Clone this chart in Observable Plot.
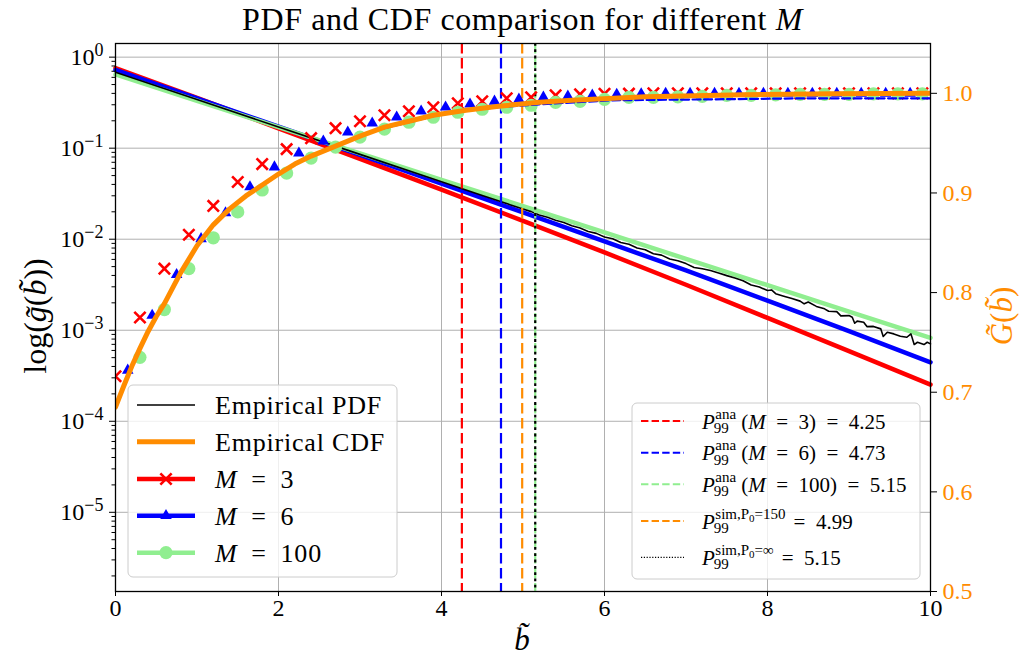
<!DOCTYPE html>
<html>
<head>
<meta charset="utf-8">
<script src="https://cdn.jsdelivr.net/npm/d3@7"></script>
<script src="https://cdn.jsdelivr.net/npm/@observablehq/plot@0.6"></script>
<style>
  body { margin: 0; background: #fff; }
  #wrap { position: relative; width: 1021px; height: 658px; overflow: hidden; font-family: "Liberation Serif", "DejaVu Serif", serif; }
  #wrap text { font-family: "Liberation Serif", "DejaVu Serif", serif !important; font-variant-numeric: normal !important; }
  #title { position: relative; height: 38px; line-height: 38px; margin-left: 115px; width: 815px; text-align: center; font-size: 32px; letter-spacing: 0.6px; color: #000; white-space: nowrap; }
  #plots { position: relative; width: 1021px; height: 620px; }
  .layer { position: absolute; left: 0; top: 0; }
  #overlay { position: absolute; left: 0; top: 0; }
</style>
</head>
<body>
<div id="wrap">
  <div id="title">PDF and CDF comparison for different <i>M</i></div>
  <div id="plots">
    <div id="l1" class="layer"></div>
    <div id="l2" class="layer"></div>
  </div>
  <svg id="overlay" width="1021" height="658"></svg>
</div>
<script>
// ---------------- data ----------------
const xTicks = [0, 2, 4, 6, 8, 10];
const yMajorExp = [-5, -4, -3, -2, -1, 0];
const rightTicks = [0.5, 0.6, 0.7, 0.8, 0.9, 1.0];

// analytical PDFs (log10 of g), read at b = 0..10
const pdfB = [0, 1, 2, 3, 4, 5, 6, 7, 8, 9, 10];
const pdfM3Log10 = [-0.119, -0.448, -0.782, -1.118, -1.455, -1.798, -2.145, -2.500, -2.865, -3.230, -3.597];
const pdfM6Log10 = [-0.141, -0.452, -0.763, -1.074, -1.390, -1.705, -2.025, -2.342, -2.675, -3.010, -3.352];
const pdfM100Log10 = [-0.190, -0.479, -0.769, -1.058, -1.348, -1.637, -1.926, -2.216, -2.505, -2.795, -3.084];

// empirical PDF (log10 of g)
const empPdfB = [0, 1, 2, 3, 4, 4.5, 5.0, 5.1, 5.2, 5.3, 5.4, 5.5, 5.6, 5.7, 5.8, 5.9, 6.0, 6.1, 6.2, 6.3, 6.4, 6.5, 6.6, 6.7, 6.8, 6.9, 7.0, 7.1, 7.2, 7.3, 7.4, 7.5, 7.6, 7.7, 7.8, 7.9, 8.0, 8.05, 8.1, 8.2, 8.3, 8.4, 8.45, 8.5, 8.6, 8.7, 8.75, 8.85, 8.9, 9.0, 9.04, 9.07, 9.1, 9.18, 9.22, 9.3, 9.39, 9.42, 9.47, 9.55, 9.63, 9.71, 9.76, 9.8, 9.84, 9.92, 9.96, 10.0];
const empPdfLog10 = [-0.165, -0.466, -0.767, -1.068, -1.369, -1.520, -1.668, -1.697, -1.733, -1.758, -1.792, -1.816, -1.853, -1.877, -1.915, -1.936, -1.975, -1.995, -2.036, -2.055, -2.097, -2.115, -2.160, -2.175, -2.218, -2.236, -2.268, -2.310, -2.325, -2.344, -2.370, -2.400, -2.425, -2.456, -2.503, -2.525, -2.564, -2.557, -2.598, -2.626, -2.652, -2.680, -2.710, -2.690, -2.738, -2.765, -2.791, -2.795, -2.842, -2.839, -2.857, -2.923, -2.900, -2.912, -2.960, -2.958, -2.985, -3.069, -3.022, -3.040, -3.066, -3.077, -3.040, -3.157, -3.132, -3.157, -3.132, -3.150];

// analytical CDF markers (right axis)
const cdfM3B = [0, 0.3, 0.6, 0.9, 1.2, 1.5, 1.8, 2.1, 2.4, 2.7, 3.0, 3.3, 3.6, 3.9, 4.2, 4.5, 4.8, 5.1, 5.4, 5.7, 6.0, 6.3, 6.6, 6.9, 7.2, 7.5, 7.8, 8.1, 8.4, 8.7, 9.0, 9.3, 9.6, 9.9];
const cdfM3 = [0.716, 0.775, 0.824, 0.858, 0.887, 0.911, 0.929, 0.944, 0.955, 0.965, 0.972, 0.978, 0.982, 0.986, 0.990, 0.992, 0.995, 0.996, 0.998, 0.999, 0.9995, 0.9997, 1.0, 1.0, 1.0, 1.0, 1.0, 1.0, 1.0, 1.0, 1.0, 1.0, 1.0, 1.0];
const cdfM6B = [0.15, 0.45, 0.75, 1.05, 1.35, 1.65, 1.95, 2.25, 2.55, 2.85, 3.15, 3.45, 3.75, 4.05, 4.35, 4.65, 4.95, 5.25, 5.55, 5.85, 6.15, 6.45, 6.75, 7.05, 7.35, 7.65, 7.95, 8.25, 8.55, 8.85, 9.15, 9.45, 9.75];
const cdfM6 = [0.722, 0.777, 0.818, 0.854, 0.880, 0.906, 0.926, 0.940, 0.952, 0.961, 0.970, 0.976, 0.982, 0.986, 0.989, 0.992, 0.994, 0.996, 0.997, 0.998, 0.999, 0.9995, 1.0, 1.0, 1.0, 1.0, 1.0, 1.0, 1.0, 1.0, 1.0, 1.0, 1.0];
const cdfM100B = [0.3, 0.6, 0.9, 1.2, 1.5, 1.8, 2.1, 2.4, 2.7, 3.0, 3.3, 3.6, 3.9, 4.2, 4.5, 4.8, 5.1, 5.4, 5.7, 6.0, 6.3, 6.6, 6.9, 7.2, 7.5, 7.8, 8.1, 8.4, 8.7, 9.0, 9.3, 9.6, 9.9];
const cdfM100 = [0.735, 0.783, 0.824, 0.855, 0.881, 0.903, 0.920, 0.935, 0.946, 0.956, 0.964, 0.971, 0.976, 0.981, 0.984, 0.986, 0.988, 0.991, 0.992, 0.994, 0.996, 0.996, 0.9965, 0.997, 0.998, 0.998, 0.9985, 0.999, 0.999, 0.999, 0.9995, 0.9995, 0.9995];
// dashed analytical CDF line for M = 6 (visible part, emerging below the empirical CDF)
const cdfM6LineB = [3.3, 3.6, 3.9, 4.2, 4.7, 5.2, 6.1, 7.35, 8.5, 10];
const cdfM6Line = [0.965, 0.971, 0.977, 0.982, 0.986, 0.989, 0.993, 0.994, 0.995, 0.995];

// empirical CDF
const cdfEmpB = [0, 0.1, 0.2, 0.3, 0.4, 0.5, 0.6, 0.8, 1.0, 1.2, 1.4, 1.6, 1.8, 2.0, 2.2, 2.4, 2.7, 3.0, 3.3, 3.6, 3.9, 4.3, 4.7, 5.2, 5.6, 6.5, 7.7, 8.8, 10];
const cdfEmp = [0.685, 0.706, 0.726, 0.744, 0.761, 0.776, 0.789, 0.820, 0.847, 0.868, 0.884, 0.897, 0.908, 0.919, 0.929, 0.937, 0.947, 0.957, 0.966, 0.972, 0.978, 0.983, 0.987, 0.991, 0.993, 0.9965, 0.9985, 0.9995, 1.0];

// 99th percentiles
const p99Names = ["ana M=3", "ana M=6", "ana M=100", "sim P0=150", "sim P0=inf"];
const p99Values = [4.25, 4.73, 5.15, 4.99, 5.15];

// ---------------- build ----------------
const FONT = '"Liberation Serif", "DejaVu Serif", serif';
const RED = "#ff0000", BLUE = "#0000ff", LGREEN = "#90ee90", ORANGE = "#ff8c00";
const GRID = "#b0b0b0";

const toRows = (bs, vs) => bs.map((b, i) => ({b, v: vs[i]}));
const toLogRows = (bs, ls) => bs.map((b, i) => ({b, v: Math.pow(10, ls[i])}));

const yMajor = yMajorExp.map(k => Math.pow(10, k));
const yMinor = [];
for (let k = -6; k <= 0; k++) for (let m = 2; m <= 9; m++) {
  const v = m * Math.pow(10, k);
  if (v > Math.pow(10, -5.87) && v < Math.pow(10, 0.15)) yMinor.push(v);
}

const W = 1021, H = 620;
const margins = {marginLeft: 115, marginRight: 91, marginTop: 5, marginBottom: 67};

const p1 = Plot.plot({
  width: W, height: H, ...margins,
  style: {fontFamily: FONT, fontSize: "24px", color: "black", background: "white", overflow: "visible"},
  x: {domain: [0, 10]},
  y: {type: "log", domain: [Math.pow(10, -5.87), Math.pow(10, 0.15)]},
  marks: [
    Plot.gridX([2, 4, 6, 8], {stroke: GRID, strokeOpacity: 1, strokeWidth: 1}),
    Plot.gridY(yMajor, {stroke: GRID, strokeOpacity: 1, strokeWidth: 1}),
    Plot.line(toLogRows(pdfB, pdfM3Log10), {x: "b", y: "v", stroke: RED, strokeWidth: 4.5}),
    Plot.line(toLogRows(pdfB, pdfM6Log10), {x: "b", y: "v", stroke: BLUE, strokeWidth: 4.5}),
    Plot.line(toLogRows(pdfB, pdfM100Log10), {x: "b", y: "v", stroke: LGREEN, strokeWidth: 4.5}),
    Plot.line(toLogRows(empPdfB, empPdfLog10), {x: "b", y: "v", stroke: "black", strokeWidth: 1.6}),
    Plot.ruleX([p99Values[0]], {stroke: RED, strokeWidth: 2.2, strokeDasharray: "10.5,4.5"}),
    Plot.ruleX([p99Values[1]], {stroke: BLUE, strokeWidth: 2.2, strokeDasharray: "10.5,4.5"}),
    Plot.ruleX([p99Values[2]], {stroke: LGREEN, strokeWidth: 2.2, strokeDasharray: "10.5,4.5"}),
    Plot.ruleX([p99Values[3]], {stroke: ORANGE, strokeWidth: 2.2, strokeDasharray: "10.5,4.5"}),
    Plot.ruleX([p99Values[4]], {stroke: "black", strokeWidth: 2.2, strokeDasharray: "2.8,3.5"}),
    Plot.axisX(xTicks, {tickSize: 5, tickPadding: 2, tickFormat: d => String(d), label: null}),
    Plot.axisY(yMinor, {tickSize: 3.5, tickFormat: () => "", label: null}),
    Plot.axisY(yMajor, {tickSize: 6, tickPadding: 6, tickFormat: d => "E" + Math.round(Math.log10(d)), label: null})
  ]
});
document.getElementById("l1").appendChild(p1);

// superscript exponents on log labels
d3.select(p1).selectAll('g[aria-label="y-axis tick label"] text').each(function () {
  const s = this.textContent;
  if (!s.startsWith("E")) return;
  const k = +s.slice(1);
  const t = d3.select(this);
  t.text("10");
  t.append("tspan").attr("dy", "-0.5em").attr("font-size", "18px")
    .text(k < 0 ? "\u2212" + Math.abs(k) : String(k));
});

const p2 = Plot.plot({
  width: W, height: H, ...margins,
  style: {fontFamily: FONT, fontSize: "24px", color: "black", background: "transparent", overflow: "visible"},
  x: {domain: [0, 10], axis: null},
  y: {domain: [0.5, 1.05]},
  marks: [
    Plot.dot(toRows(cdfM3B, cdfM3), {x: "b", y: "v", symbol: "times", r: 5.2, stroke: RED, strokeWidth: 2.6, clip: true}),
    Plot.dot(toRows(cdfM6B, cdfM6), {x: "b", y: "v", symbol: "triangle", r: 4.3, fill: BLUE, stroke: "none", clip: true}),
    Plot.dot(toRows(cdfM100B, cdfM100), {x: "b", y: "v", symbol: "circle", r: 6.6, fill: LGREEN, stroke: "none", clip: true}),
    Plot.line(toRows(cdfM6LineB, cdfM6Line), {x: "b", y: "v", stroke: BLUE, strokeWidth: 2.2, strokeDasharray: "8,3.5", clip: true}),
    Plot.line(toRows(cdfEmpB, cdfEmp), {x: "b", y: "v", stroke: ORANGE, strokeWidth: 5, clip: true}),
    Plot.frame({stroke: "black", strokeWidth: 1.3}),
    Plot.axisY(rightTicks, {anchor: "right", tickSize: 6, tickPadding: 6, tickFormat: d3.format(".1f"), stroke: "black", fill: ORANGE, label: null})
  ]
});
document.getElementById("l2").appendChild(p2);

// ---------------- overlay: labels & legends ----------------
const ov = d3.select("#overlay");

function addText(parent, x, y, parts, {size = 24, anchor = "start", fill = "black", transform = null, spacing = null} = {}) {
  const t = parent.append("text").attr("x", x).attr("y", y)
    .attr("font-size", size).attr("text-anchor", anchor).attr("fill", fill)
    .style("font-family", FONT);
  if (spacing != null) t.style("letter-spacing", spacing + "px");
  if (transform) t.attr("transform", transform);
  for (const p of parts) {
    const s = typeof p === "string" ? {t: p} : p;
    const ts = t.append("tspan").text(s.t);
    if (s.i) ts.attr("font-style", "italic");
    if (s.size) ts.attr("font-size", s.size);
    if (s.dy) ts.attr("dy", s.dy);
  }
  return t;
}

// axis labels
addText(ov, 0, 0, [{t: "b\u0303", i: true}], {size: 31, anchor: "middle", transform: "translate(522,650)"});
addText(ov, 0, 0, ["log(", {t: "g\u0303", i: true}, "(", {t: "b\u0303", i: true}, "))"],
  {size: 32, anchor: "middle", transform: "translate(46,316) rotate(-90)"});
addText(ov, 0, 0, [{t: "G\u0303", i: true}, "(", {t: "b\u0303", i: true}, ")"],
  {size: 31, anchor: "middle", fill: ORANGE, transform: "translate(1012,316) rotate(-90)"});

// left legend
const lg1 = ov.append("g");
lg1.append("rect").attr("x", 128).attr("y", 385).attr("width", 269).attr("height", 192)
  .attr("rx", 5).attr("fill", "white").attr("fill-opacity", 0.8).attr("stroke", "#cccccc").attr("stroke-width", 1);
const legItems = [
  {label: ["Empirical PDF"], color: "black", w: 1.6},
  {label: ["Empirical CDF"], color: ORANGE, w: 5},
  {label: [{t: "M", i: true}, "\u2002=\u20023"], color: RED, w: 4.5, sym: "times"},
  {label: [{t: "M", i: true}, "\u2002=\u20026"], color: BLUE, w: 4.5, sym: "triangle"},
  {label: [{t: "M", i: true}, "\u2002=\u2002100"], color: LGREEN, w: 4.5, sym: "circle"}
];
const legY = [405, 441.7, 479, 515.7, 552.7];
legItems.forEach((it, i) => {
  const y = legY[i];
  lg1.append("line").attr("x1", 137).attr("x2", 195).attr("y1", y).attr("y2", y)
    .attr("stroke", it.color).attr("stroke-width", it.w);
  if (it.sym === "times") {
    lg1.append("path").attr("d", d3.symbol(d3.symbolTimes, Math.PI * 5.2 * 5.2)())
      .attr("transform", `translate(166,${y})`).attr("stroke", RED).attr("stroke-width", 2.6).attr("fill", "none");
  } else if (it.sym === "triangle") {
    lg1.append("path").attr("d", d3.symbol(d3.symbolTriangle, Math.PI * 4.3 * 4.3)())
      .attr("transform", `translate(166,${y})`).attr("fill", BLUE);
  } else if (it.sym === "circle") {
    lg1.append("circle").attr("cx", 166).attr("cy", y).attr("r", 6.6).attr("fill", LGREEN);
  }
  addText(lg1, 215, y + 9, it.label, {size: 26, spacing: 0.8});
});

// right legend
const lg2 = ov.append("g");
lg2.append("rect").attr("x", 632).attr("y", 403).attr("width", 288).attr("height", 176)
  .attr("rx", 5).attr("fill", "white").attr("fill-opacity", 0.8).attr("stroke", "#cccccc").attr("stroke-width", 1);
const rItems = [
  {color: RED, dash: "7.4,3.2", sup: ["ana"], rest: ["(", {t: "M", i: true}, "\u2002=\u20023)\u2002=\u20024.25"], gap: 5},
  {color: BLUE, dash: "7.4,3.2", sup: ["ana"], rest: ["(", {t: "M", i: true}, "\u2002=\u20026)\u2002=\u20024.73"], gap: 5},
  {color: LGREEN, dash: "7.4,3.2", sup: ["ana"], rest: ["(", {t: "M", i: true}, "\u2002=\u2002100)\u2002=\u20025.15"], gap: 5},
  {color: ORANGE, dash: "7.4,3.2", sup: ["sim,P", {t: "0", size: 11, dy: 3}, {t: "=150", size: 15, dy: -3}], rest: ["=\u20024.99"], gap: 8},
  {color: "black", dash: "1.2,1.6", w: 1.2, sup: ["sim,P", {t: "0", size: 11, dy: 3}, {t: "=\u221E", size: 15, dy: -3}], rest: ["=\u20025.15"], gap: 8}
];
const rY = [421, 452.7, 484.3, 521, 557.3];
rItems.forEach((it, i) => {
  const y = rY[i];
  lg2.append("line").attr("x1", 641).attr("x2", 684).attr("y1", y).attr("y2", y)
    .attr("stroke", it.color).attr("stroke-width", it.w || 2).attr("stroke-dasharray", it.dash);
  const base = y + 7.5;
  let x = 702;
  const P = addText(lg2, x, base, [{t: "P", i: true}], {size: 21});
  x += P.node().getComputedTextLength();
  const s1 = addText(lg2, x + 0.5, base - 10, it.sup, {size: 15});
  const s2 = addText(lg2, x - 1, base + 4.5, ["99"], {size: 15});
  const w = Math.max(s1.node().getComputedTextLength() + 0.5, s2.node().getComputedTextLength() - 1);
  addText(lg2, x + w + it.gap, base, it.rest, {size: 21});
});
</script>
</body>
</html>
